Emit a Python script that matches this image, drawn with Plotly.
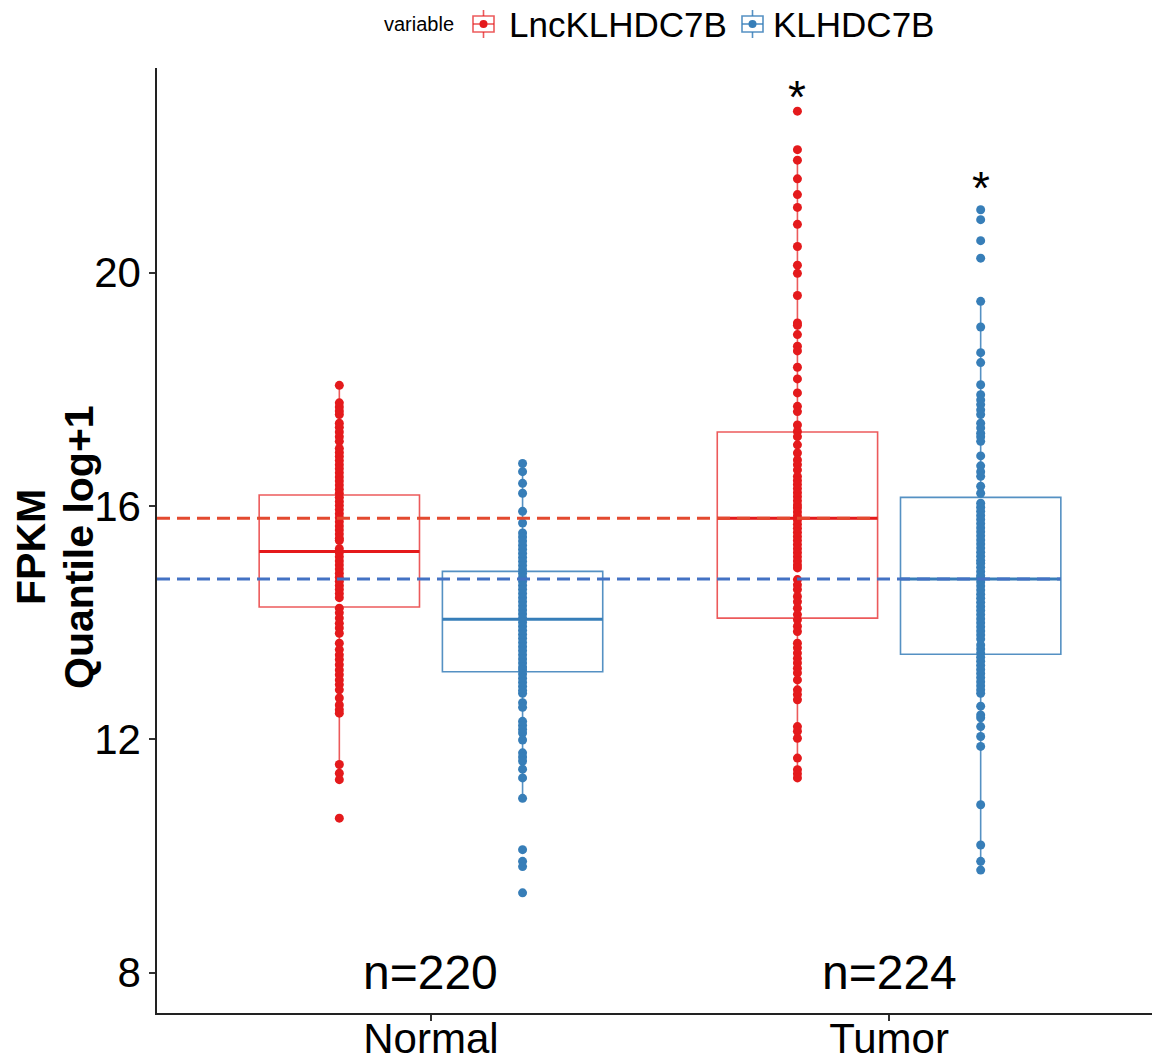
import plotly.graph_objects as go

# ---------------- data ----------------
categories = ["Normal", "Tumor"]
variables = ["LncKLHDC7B", "KLHDC7B"]
legend_title = "variable"
sample_n = ["n=220", "n=224"]
y_title = ["FPKM", "Quantile log+1"]

lnc_normal = [18.07, 17.77, 17.70, 17.63, 17.57, 17.42, 17.35, 17.27, 17.19, 17.11,
              16.99, 16.92, 16.85, 16.78, 16.71, 16.64, 16.57, 16.50, 16.43, 16.36,
              16.29, 16.22, 16.15, 16.08, 16.01, 15.94, 15.87, 15.80, 15.73, 15.66,
              15.59, 15.52, 15.45, 15.41, 15.27, 15.20, 15.13, 15.06, 14.99, 14.92,
              14.85, 14.78, 14.71, 14.64, 14.57, 14.50, 14.43, 14.25, 14.17, 14.08,
              13.99, 13.91, 13.82, 13.65, 13.54, 13.45, 13.37, 13.28, 13.19, 13.11,
              13.02, 12.94, 12.85, 12.71, 12.59, 12.51, 12.45, 11.57, 11.42, 11.31,
              10.65]
klh_normal = [16.73, 16.59, 16.39, 16.22, 15.91, 15.71, 15.54, 15.47, 15.40, 15.33,
              15.26, 15.19, 15.12, 15.05, 14.98, 14.91, 14.85, 14.78, 14.71, 14.64,
              14.57, 14.50, 14.43, 14.36, 14.29, 14.22, 14.15, 14.08, 14.01, 13.94,
              13.87, 13.80, 13.73, 13.66, 13.59, 13.52, 13.45, 13.38, 13.31, 13.24,
              13.19, 13.12, 13.05, 12.98, 12.91, 12.84, 12.79, 12.63, 12.55, 12.31,
              12.24, 12.17, 12.11, 11.99, 11.77, 11.70, 11.63, 11.49, 11.34, 10.99,
              10.11, 9.91, 9.82, 9.37]
lnc_tumor = [22.77, 22.11, 21.93, 21.61, 21.34, 21.12, 20.83, 20.45, 20.13, 19.99,
             19.61, 19.14, 19.10, 18.94, 18.74, 18.66, 18.38, 18.18, 17.94, 17.71,
             17.62, 17.39, 17.28, 17.19, 17.05, 16.91, 16.79, 16.71, 16.62, 16.51,
             16.44, 16.37, 16.30, 16.23, 16.16, 16.09, 16.02, 15.97, 15.90, 15.83,
             15.76, 15.69, 15.62, 15.55, 15.48, 15.41, 15.34, 15.27, 15.20, 15.13,
             15.06, 14.99, 14.94, 14.74, 14.65, 14.57, 14.45, 14.36, 14.25, 14.14,
             14.05, 13.94, 13.85, 13.65, 13.57, 13.48, 13.39, 13.31, 13.22, 13.14,
             13.02, 12.85, 12.77, 12.68, 12.22, 12.14, 12.02, 11.68, 11.48, 11.41,
             11.34]
klh_tumor = [21.08, 20.91, 20.55, 20.25, 19.51, 19.07, 18.63, 18.46, 18.08, 17.91,
             17.82, 17.74, 17.65, 17.57, 17.42, 17.34, 17.25, 17.19, 17.11, 16.86,
             16.69, 16.59, 16.51, 16.34, 16.22, 16.05, 15.98, 15.91, 15.84, 15.77,
             15.70, 15.63, 15.56, 15.49, 15.42, 15.35, 15.28, 15.21, 15.14, 15.07,
             15.02, 14.95, 14.88, 14.81, 14.77, 14.70, 14.63, 14.56, 14.49, 14.42,
             14.35, 14.28, 14.21, 14.14, 14.07, 14.00, 13.93, 13.86, 13.79, 13.72,
             13.62, 13.55, 13.48, 13.41, 13.34, 13.27, 13.20, 13.13, 13.06, 12.99,
             12.92, 12.85, 12.79, 12.57, 12.42, 12.37, 12.22, 12.05, 11.88, 10.88,
             10.19, 9.91, 9.76]

# box statistics per category (Normal, Tumor)
lnc_q1 = [14.27, 14.08]
lnc_med = [15.22, 15.79]
lnc_q3 = [16.19, 17.27]
lnc_lo = [11.42, 11.34]
lnc_hi = [18.07, 21.93]
klh_q1 = [13.16, 13.46]
klh_med = [14.06, 14.75]
klh_q3 = [14.88, 16.15]
klh_lo = [10.99, 9.76]
klh_hi = [16.73, 19.51]

signif_labels = ["*", "*"]
signif_y = [23.02, 21.46]
n_label_y = 8.0

# ---------------- style / layout ----------------
W, H = 1152, 1064
ML, MR, MT, MB = 157, 0, 68, 51
PW, PH = W - ML - MR, H - MT - MB

RED = "#E41A1C"
BLUE = "#377EB8"
RED_BOX = "rgba(228,26,28,0.72)"
BLUE_BOX = "rgba(55,126,184,0.85)"
RED_DASH = "#E34A2F"
BLUE_DASH = "#4472C4"
FONT = "Liberation Sans, Arial, Helvetica, sans-serif"
DODGE = 0.2
BOXW = 0.35


def px_x(px):
    return (px - ML) / PW


def px_y(py):
    return (H - MB - py) / PH


cat_pos = [1, 2]
series = [
    dict(name=variables[0], off=-DODGE, pts=[lnc_normal, lnc_tumor], q1=lnc_q1, med=lnc_med,
         q3=lnc_q3, lo=lnc_lo, hi=lnc_hi, col=RED, boxcol=RED_BOX, dash=RED_DASH,
         leg_icon=483.5, leg_text=507),
    dict(name=variables[1], off=DODGE, pts=[klh_normal, klh_tumor], q1=klh_q1, med=klh_med,
         q3=klh_q3, lo=klh_lo, hi=klh_hi, col=BLUE, boxcol=BLUE_BOX, dash=BLUE_DASH,
         leg_icon=752.5, leg_text=771),
]

fig = go.Figure()
shapes = []
annotations = []
for s in series:
    xs = [c + s["off"] for c in cat_pos]
    fig.add_trace(go.Box(
        x=xs, q1=s["q1"], median=s["med"], q3=s["q3"],
        lowerfence=s["lo"], upperfence=s["hi"],
        width=BOXW, whiskerwidth=0, boxpoints=False,
        line=dict(color=s["boxcol"], width=1.6),
        fillcolor="rgba(255,255,255,0)",
        name=s["name"], showlegend=False, hoverinfo="skip",
    ))
    for x, m in zip(xs, s["med"]):
        shapes.append(dict(type="line", xref="x", yref="y", x0=x - BOXW / 2, x1=x + BOXW / 2,
                           y0=m, y1=m, line=dict(color=s["col"], width=3), layer="below"))
for s in series:
    for c, pts in zip(cat_pos, s["pts"]):
        fig.add_trace(go.Scatter(
            x=[c + s["off"]] * len(pts), y=pts, mode="markers",
            marker=dict(color=s["col"], size=9, line=dict(width=0)),
            showlegend=False, hoverinfo="skip",
        ))

x_range = [0.402, 2.574]
for s in series:
    shapes.append(dict(type="line", xref="x", yref="y", x0=x_range[0],
                       x1=cat_pos[1] + s["off"] + BOXW / 2,
                       y0=s["med"][1], y1=s["med"][1],
                       line=dict(color=s["dash"], width=3, dash="13px,7px"), layer="above"))

# ---- manual legend (ggplot-like keys) ----
LEG_Y = 24
annotations.append(dict(x=px_x(419), y=px_y(LEG_Y), xref="paper", yref="paper",
                        text=legend_title, showarrow=False, xanchor="center", yanchor="middle",
                        font=dict(size=20, color="black", family=FONT)))
for s in series:
    cx = s["leg_icon"]
    shapes.append(dict(type="rect", xref="paper", yref="paper",
                       x0=px_x(cx - 10.5), x1=px_x(cx + 10.5),
                       y0=px_y(LEG_Y + 8), y1=px_y(LEG_Y - 8),
                       line=dict(color=s["boxcol"], width=1.6), fillcolor="rgba(0,0,0,0)"))
    for a, b in [(LEG_Y - 8, LEG_Y - 14), (LEG_Y + 8, LEG_Y + 14)]:
        shapes.append(dict(type="line", xref="paper", yref="paper",
                           x0=px_x(cx), x1=px_x(cx), y0=px_y(a), y1=px_y(b),
                           line=dict(color=s["boxcol"], width=1.6)))
    shapes.append(dict(type="line", xref="paper", yref="paper",
                       x0=px_x(cx - 10.5), x1=px_x(cx + 10.5), y0=px_y(LEG_Y), y1=px_y(LEG_Y),
                       line=dict(color=s["boxcol"], width=1.6)))
    shapes.append(dict(type="circle", xref="paper", yref="paper",
                       x0=px_x(cx - 4), x1=px_x(cx + 4), y0=px_y(LEG_Y + 4), y1=px_y(LEG_Y - 4),
                       line=dict(width=0), fillcolor=s["col"]))
    annotations.append(dict(x=px_x(s["leg_text"]), y=px_y(LEG_Y), xref="paper", yref="paper",
                            text=s["name"], showarrow=False, xanchor="left", yanchor="middle",
                            font=dict(size=35, color="black", family=FONT)))

# ---- y-axis title (two rotated lines) ----
for txt, cx in zip(y_title, [31, 79]):
    annotations.append(dict(x=px_x(cx), y=px_y(547), xref="paper", yref="paper",
                            text="<b>" + txt + "</b>", showarrow=False, textangle=-90,
                            xanchor="center", yanchor="middle",
                            font=dict(size=41, color="black", family=FONT)))

for c, t in zip(cat_pos, sample_n):
    annotations.append(dict(x=c, y=n_label_y, xref="x", yref="y", text=t, showarrow=False,
                            font=dict(size=48, color="black", family=FONT),
                            xanchor="center", yanchor="middle"))
for s, lab, yv in zip(series, signif_labels, signif_y):
    annotations.append(dict(x=cat_pos[1] + s["off"], y=yv, xref="x", yref="y", text=lab,
                            showarrow=False, font=dict(size=46, color="black", family=FONT),
                            xanchor="center", yanchor="middle"))

fig.update_layout(
    width=W, height=H,
    margin=dict(l=ML, r=MR, t=MT, b=MB),
    paper_bgcolor="white", plot_bgcolor="white",
    boxmode="overlay", showlegend=False,
    font=dict(family=FONT, color="black"),
    shapes=shapes, annotations=annotations,
    xaxis=dict(range=x_range, tickvals=cat_pos, ticktext=categories, automargin=False,
               showgrid=False, zeroline=False, showline=True, linecolor="#222", linewidth=1.5,
               ticks="outside", ticklen=6, tickcolor="#333", tickwidth=1.5,
               ticklabelstandoff=-18,
               tickfont=dict(size=42, color="black")),
    yaxis=dict(range=[7.31, 23.51], tickvals=[8, 12, 16, 20], automargin=False,
               showgrid=False, zeroline=False, showline=True, linecolor="#222", linewidth=1.5,
               ticks="outside", ticklen=6, tickcolor="#333", tickwidth=1.5,
               tickfont=dict(size=42, color="black")),
)

fig.write_html("out.html")
